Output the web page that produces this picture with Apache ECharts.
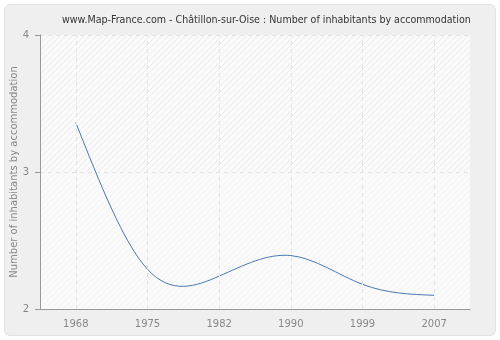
<!DOCTYPE html>
<html><head><meta charset="utf-8">
<script src="https://cdn.jsdelivr.net/npm/echarts@6/dist/echarts.min.js"></script>
<style>
html,body{margin:0;padding:0;background:#fff;}
#wrap{position:absolute;left:4px;top:4px;width:490px;height:330px;background:#efefef;border:1px solid #e2e2e2;border-radius:6px;}
#c{position:absolute;left:0;top:0;width:500px;height:340px;}
</style></head>
<body><div id="wrap"></div><div id="c"></div>
<script>
const titleText = "www.Map-France.com - Châtillon-sur-Oise : Number of inhabitants by accommodation";
const yAxisName = "Number of inhabitants by accommodation";
const years = ["1968","1975","1982","1990","1999","2007"];
const values = [3.36, 2.29, 2.24, 2.39, 2.18, 2.10];
const yTicks = [2, 3, 4];

function hatch(bg, line){
  const cv = document.createElement('canvas');
  cv.width = 6; cv.height = 6;
  const ctx = cv.getContext('2d');
  ctx.fillStyle = bg; ctx.fillRect(0,0,6,6);
  ctx.strokeStyle = line; ctx.lineWidth = 1;
  ctx.beginPath(); ctx.moveTo(0,6); ctx.lineTo(6,0); ctx.stroke();
  return {image: cv, repeat: 'repeat'};
}

// natural cubic spline through pixel points, returned as bezier path
function splinePath(pts){
  const n = pts.length;
  const M = new Array(n).fill(0);
  if (n > 2){
    const a = [], b = [], c = [], d = [];
    for (let i = 1; i < n-1; i++){
      a.push(1); b.push(4); c.push(1);
      d.push(6*(pts[i+1][1] - 2*pts[i][1] + pts[i-1][1]));
    }
    const m = d.length;
    for (let i = 1; i < m; i++){
      const w = a[i]/b[i-1];
      b[i] -= w*c[i-1]; d[i] -= w*d[i-1];
    }
    const x = new Array(m);
    x[m-1] = d[m-1]/b[m-1];
    for (let i = m-2; i >= 0; i--) x[i] = (d[i] - c[i]*x[i+1])/b[i];
    for (let i = 0; i < m; i++) M[i+1] = x[i];
  }
  let p = 'M' + pts[0][0] + ' ' + pts[0][1];
  for (let i = 0; i < n-1; i++){
    const [x1,y1] = pts[i], [x2,y2] = pts[i+1];
    const dx = x2 - x1;
    const d0 = (y2 - y1) - (2*M[i] + M[i+1])/6;
    const d1 = (y2 - y1) + (M[i] + 2*M[i+1])/6;
    p += ' C' + (x1+dx/3) + ' ' + (y1+d0/3) + ' ' + (x2-dx/3) + ' ' + (y2-d1/3) + ' ' + x2 + ' ' + y2;
  }
  return p;
}

const chart = echarts.init(document.getElementById('c'));
chart.setOption({
  animation:false,
  backgroundColor:'transparent',
  title:{text:titleText,left:57,top:10,textStyle:{fontFamily:'DejaVu Sans Condensed',fontSize:10.6,fontWeight:'normal',color:'#333'}},
  grid:{left:40,right:30,top:35,bottom:31,containLabel:false,outerBoundsMode:'none'},
  xAxis:{type:'category',data:years,boundaryGap:true,
    axisLine:{lineStyle:{color:'#999'}},
    axisTick:{alignWithLabel:true,length:5,lineStyle:{color:'#999'}},
    axisLabel:{color:'#888',fontFamily:'DejaVu Sans',fontSize:10,margin:10},
    splitLine:{show:false}},
  yAxis:{type:'value',min:yTicks[0],max:yTicks[yTicks.length-1],interval:1,
    name:yAxisName,nameLocation:'middle',nameGap:21,nameMoveOverlap:false,
    nameTextStyle:{color:'#888',fontFamily:'DejaVu Sans',fontSize:10},
    axisLine:{show:true,lineStyle:{color:'#999'}},
    axisTick:{show:true,length:5,lineStyle:{color:'#999'}},
    axisLabel:{color:'#888',fontFamily:'DejaVu Sans',fontSize:10,margin:11},
    splitLine:{show:true,lineStyle:{type:[4,4],color:'#e4e4e4'}},
    splitArea:{show:true,areaStyle:{color:[hatch('#fafafa','#f3f3f3'),hatch('#fafafa','#ececec')]}}},
  series:[{type:'custom',data:values.map((v,i)=>[i,v]),
    renderItem:function(params, api){
      if (params.dataIndex !== 0) return null;
      const pts = values.map((v,i)=>api.coord([i,v]));
      return {type:'path',shape:{pathData:splinePath(pts)},
        style:{fill:null,stroke:'#4a78b0',lineWidth:1}};
    },
    encode:{x:0,y:1},
    markLine:{silent:true,symbol:'none',label:{show:false},
      lineStyle:{type:[4,4],color:'#e4e4e4',width:1},
      data:years.map(y=>({xAxis:y}))},
    z:3}]
});
</script></body></html>
